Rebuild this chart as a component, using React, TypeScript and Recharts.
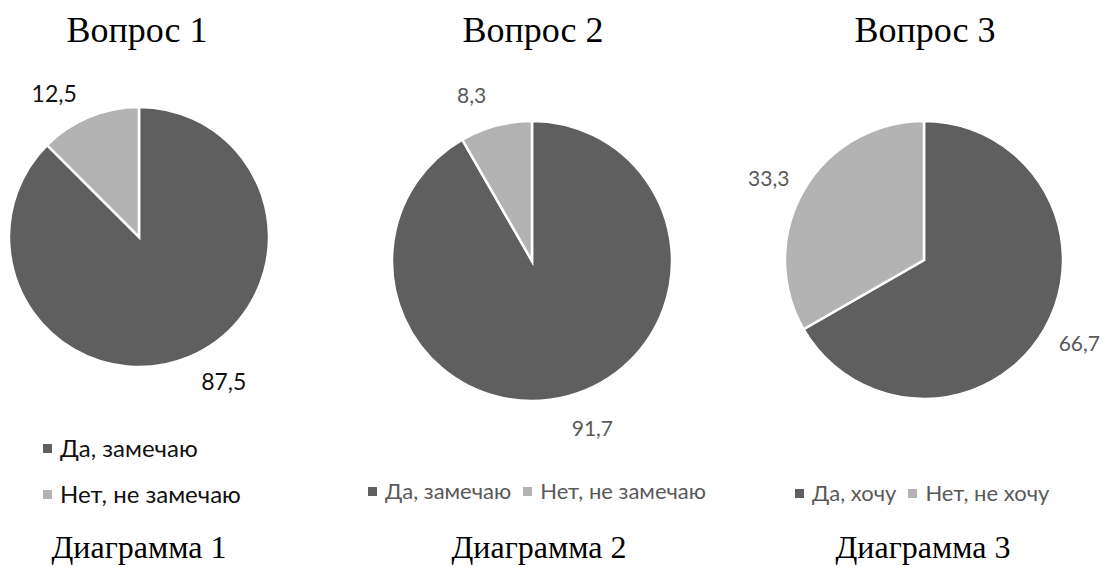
import { PieChart, Pie, Legend } from 'recharts'

// survey answers, percent
const q1Names = ['Да, замечаю', 'Нет, не замечаю']
const q1Values = [87.5, 12.5]

const q2Names = ['Да, замечаю', 'Нет, не замечаю']
const q2Values = [91.7, 8.3]

const q3Names = ['Да, хочу', 'Нет, не хочу']
const q3Values = [66.7, 33.3]

const titles = ['Вопрос 1', 'Вопрос 2', 'Вопрос 3']
const captions = ['Диаграмма 1', 'Диаграмма 2', 'Диаграмма 3']

const COLORS = ['#5f5f5f', '#b3b3b3']
const SERIF = '"Liberation Serif", "Times New Roman", serif'
const SANS = 'Lato, "Noto Sans", sans-serif'

type ChartCfg = {
  names: string[]
  values: number[]
  left: number
  width: number
  cx: number
  cy: number
  r: number
  labelFont: number
  labelColor: string
  labelShift: number
  legendFont: number
  legendColor: string
  legendVertical: boolean
  legendLeft: number
  legendTop: number
  titleX: number
  captionX: number
}

const charts: ChartCfg[] = [
  {
    names: q1Names, values: q1Values, left: 0, width: 360, cx: 139, cy: 237, r: 130,
    labelFont: 23, labelColor: '#111', labelShift: 8,
    legendFont: 24, legendColor: '#111', legendVertical: true, legendLeft: 43, legendTop: 435,
    titleX: 137, captionX: 139,
  },
  {
    names: q2Names, values: q2Values, left: 360, width: 380, cx: 172, cy: 261, r: 140,
    labelFont: 21, labelColor: '#595959', labelShift: 5,
    legendFont: 22, legendColor: '#595959', legendVertical: false, legendLeft: 8, legendTop: 478,
    titleX: 533, captionX: 539,
  },
  {
    names: q3Names, values: q3Values, left: 740, width: 363, cx: 184, cy: 260, r: 139,
    labelFont: 21, labelColor: '#595959', labelShift: 2,
    legendFont: 22, legendColor: '#595959', legendVertical: false, legendLeft: 55, legendTop: 480,
    titleX: 925, captionX: 923,
  },
]

const RAD = Math.PI / 180

function QuestionPie({ cfg }: { cfg: ChartCfg }) {
  const rows = cfg.names.map((name, i) => ({ name, value: cfg.values[i], fill: COLORS[i] }))

  const renderLabel = (p: any) => {
    const angle = (p.midAngle + cfg.labelShift) * RAD
    const dist = p.outerRadius + 37
    const x = p.cx + dist * Math.cos(angle)
    const y = p.cy - dist * Math.sin(angle)
    return (
      <text
        key={`lbl-${p.index}`}
        x={x}
        y={y}
        textAnchor="middle"
        dominantBaseline="central"
        fill={cfg.labelColor}
        fontSize={cfg.labelFont}
        fontFamily={SANS}
      >
        {String(p.value).replace('.', ',')}
      </text>
    )
  }

  const renderLegend = (props: any) => {
    const items = props.payload || []
    return (
      <div
        style={{
          display: 'flex',
          flexDirection: cfg.legendVertical ? 'column' : 'row',
          gap: cfg.legendVertical ? 20 : 12,
          fontFamily: SANS,
          fontSize: cfg.legendFont,
          color: cfg.legendColor,
          lineHeight: '26px',
          whiteSpace: 'nowrap',
        }}
      >
        {items.map((it: any, i: number) => (
          <div key={`leg-${i}`} style={{ display: 'flex', alignItems: 'center' }}>
            <span
              style={{
                display: 'inline-block',
                width: 9,
                height: 9,
                background: COLORS[i],
                marginRight: 8,
              }}
            />
            {it.value}
          </div>
        ))}
      </div>
    )
  }

  return (
    <div style={{ position: 'absolute', left: cfg.left, top: 0 }}>
      <PieChart width={cfg.width} height={567} margin={{ top: 0, right: 0, bottom: 0, left: 0 }}>
        <Pie
          data={rows}
          dataKey="value"
          nameKey="name"
          cx={cfg.cx}
          cy={cfg.cy}
          outerRadius={cfg.r}
          startAngle={90}
          endAngle={-270}
          stroke="#ffffff"
          strokeWidth={2.5}
          label={renderLabel}
          labelLine={false}
          isAnimationActive={false}
        />
        <Legend
          content={renderLegend}
          wrapperStyle={{ position: 'absolute', left: cfg.legendLeft, top: cfg.legendTop, width: 'auto' }}
        />
      </PieChart>
    </div>
  )
}

export default function App() {
  return (
    <div
      style={{
        position: 'absolute',
        left: 0,
        top: 0,
        width: 1103,
        height: 567,
        background: '#ffffff',
        overflow: 'hidden',
      }}
    >
      {charts.map((c, i) => (
        <QuestionPie key={i} cfg={c} />
      ))}
      <svg
        width={1103}
        height={567}
        style={{ position: 'absolute', left: 0, top: 0, pointerEvents: 'none' }}
      >
        {charts.map((c, i) => (
          <g key={`t-${i}`} fontFamily={SERIF} fill="#000" textAnchor="middle">
            <text x={c.titleX} y={42} fontSize={36}>{titles[i]}</text>
            <text x={c.captionX} y={558} fontSize={32}>{captions[i]}</text>
          </g>
        ))}
      </svg>
    </div>
  )
}
